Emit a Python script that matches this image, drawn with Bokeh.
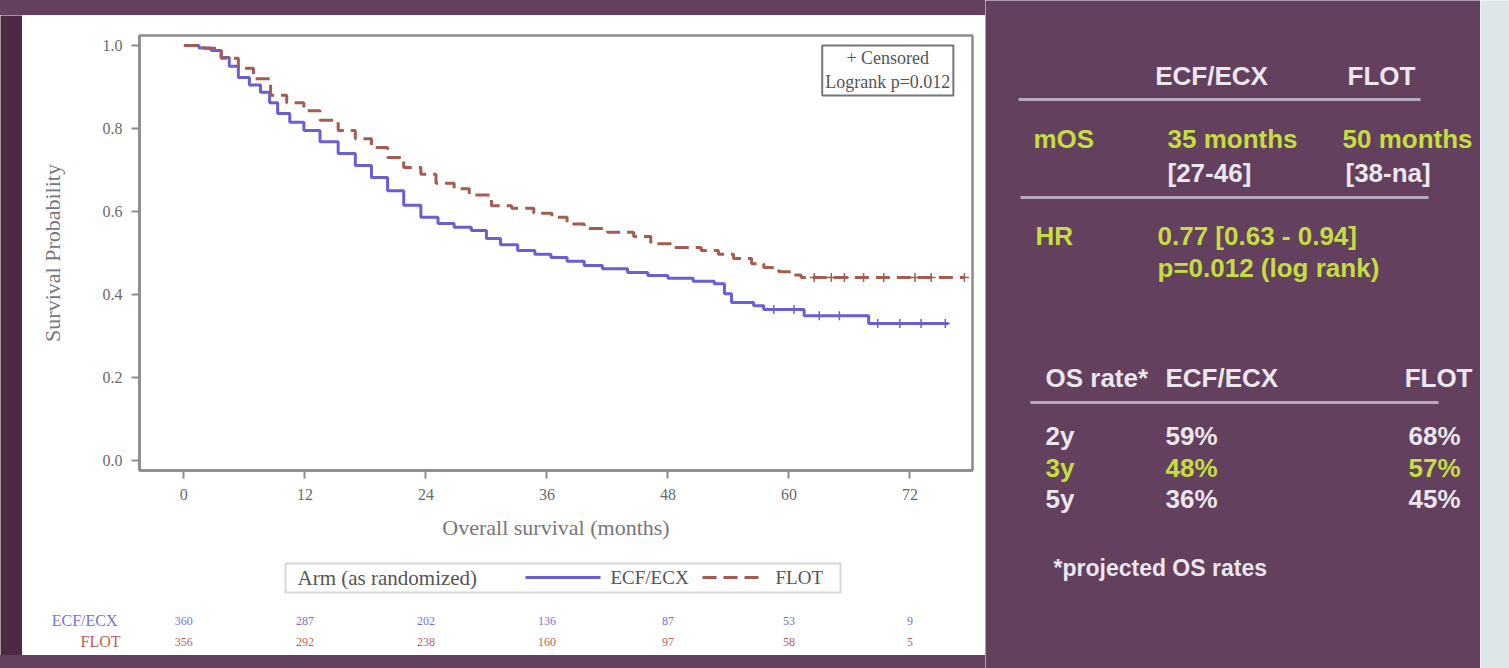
import bisect
from bokeh.plotting import figure
from bokeh.models import (Range1d, FixedTicker, Label, NumeralTickFormatter, BoxAnnotation, Div,
                          LinearAxis)
from bokeh.layouts import row, column
from bokeh.embed import file_html
from bokeh.resources import INLINE
from bokeh.core.properties import value

# ---------------- data ----------------
ecf_t = [0, 1.5, 2.7, 3.7, 4.5, 5.4, 6.5, 7.6, 8.5, 9.3, 10.5, 11.9, 13.5, 15.3, 17.0, 18.6,
         20.2, 21.8, 23.5, 25.2, 26.8, 28.5, 30.0, 31.4, 33.1, 34.8, 36.4, 38.0, 39.7, 41.5,
         44.0, 46.0, 48.0, 50.5, 52.6, 53.6, 54.3, 56.5, 57.5, 61.5, 67.9, 75.8]
ecf_s = [1.0, 0.994, 0.988, 0.971, 0.950, 0.923, 0.905, 0.887, 0.862, 0.836, 0.815, 0.795,
         0.768, 0.740, 0.711, 0.682, 0.650, 0.615, 0.586, 0.571, 0.562, 0.554, 0.535, 0.520,
         0.506, 0.497, 0.489, 0.480, 0.470, 0.462, 0.453, 0.446, 0.439, 0.432, 0.426, 0.402,
         0.381, 0.373, 0.364, 0.349, 0.330, 0.330]

flot_t = [0, 2.0, 3.7, 5.4, 6.9, 8.6, 10.2, 11.9, 13.5, 15.3, 17.0, 18.6, 20.2, 21.8, 23.5,
          25.0, 26.8, 28.3, 30.5, 32.5, 34.7, 36.5, 38.0, 39.7, 42.0, 44.6, 46.3, 48.5, 51.3,
          53.0, 54.5, 56.3, 57.5, 59.0, 60.5, 61.2, 77.4]
flot_s = [1.0, 0.993, 0.969, 0.945, 0.920, 0.880, 0.862, 0.843, 0.820, 0.795, 0.775, 0.754,
          0.730, 0.706, 0.690, 0.668, 0.655, 0.640, 0.614, 0.608, 0.596, 0.586, 0.570, 0.559,
          0.550, 0.540, 0.522, 0.513, 0.506, 0.497, 0.487, 0.474, 0.465, 0.455, 0.447, 0.441,
          0.441]

ecf_censor_t = [58.5, 60.5, 63.0, 65.0, 68.8, 71.0, 73.1, 75.5]
flot_censor_t = [62.5, 64.2, 65.5, 67.4, 69.4, 72.5, 74.1, 77.4]

x_ticks = [0, 12, 24, 36, 48, 60, 72]
y_ticks = [0.0, 0.2, 0.4, 0.6, 0.8, 1.0]

risk_times = [0, 12, 24, 36, 48, 60, 72]
ecf_risk = ["360", "287", "202", "136", "87", "53", "9"]
flot_risk = ["356", "292", "238", "160", "97", "58", "5"]

arm_names = ["ECF/ECX", "FLOT"]
legend_title = "Arm (as randomized)"

# right panel table
head_cols = ["ECF/ECX", "FLOT"]
mos_label = "mOS"
mos_vals = ["35 months", "50 months"]
mos_ci = ["[27-46]", "[38-na]"]
hr_label = "HR"
hr_lines = ["0.77 [0.63 - 0.94]", "p=0.012 (log rank)"]
os_head = ["OS rate*", "ECF/ECX", "FLOT"]
os_years = ["2y", "3y", "5y"]
os_ecf = ["59%", "48%", "36%"]
os_flot = ["68%", "57%", "45%"]
footnote = "*projected OS rates"

# ---------------- styles ----------------
PURPLE = "#62405e"
DARKP = "#4c2a42"
BLUE = "#6a5fd0"
BROWN = "#a35b52"
GRAY = "#8c8c8c"
TXT = "#6a6a6a"
WHITE_T = "#ece6ee"
YELLOW = "#c6dd3e"
RISK_B = "#7b6fd6"
RISK_R = "#c0605a"
SERIF = "Liberation Serif"
SANS = "Liberation Sans"


def step_value(ts, ss, t):
    i = bisect.bisect_right(ts, t) - 1
    return ss[max(i, 0)]


def blank(w, h, color):
    return figure(width=w, height=h, output_backend="svg", toolbar_location=None,
                  min_border_left=0, min_border_right=0, min_border_top=0, min_border_bottom=0,
                  x_axis_type=None, y_axis_type=None, background_fill_color=color,
                  border_fill_color=color, outline_line_color=None)


# ---------------- KM figure ----------------
PW, PH = 963, 540
PANEL_X = 22                      # left edge of the white panel on the page
BL, BR, BT, BB = 117, 13, 20, 85
X0, X1 = -4.4, 78.2
xr = Range1d(X0, X1)
p = figure(width=PW, height=PH, x_range=xr, y_range=Range1d(-0.024, 1.024),
           output_backend="svg", toolbar_location=None,
           min_border_left=BL, min_border_right=BR, min_border_top=BT, min_border_bottom=BB,
           background_fill_color="white", border_fill_color="white")
p.grid.visible = False
p.outline_line_color = GRAY
p.outline_line_width = 2.5

for ax in (p.xaxis[0], p.yaxis[0]):
    ax.axis_line_color = GRAY
    ax.axis_line_width = 2.5
    ax.major_tick_line_color = GRAY
    ax.major_tick_line_width = 2
    ax.major_tick_out = 8
    ax.major_tick_in = 0
    ax.minor_tick_line_color = None
    ax.major_label_text_font = SERIF
    ax.major_label_text_font_size = "16px"
    ax.major_label_text_color = TXT
    ax.axis_label_text_font = SERIF
    ax.axis_label_text_font_size = "22px"
    ax.axis_label_text_font_style = "normal"
    ax.axis_label_text_color = "#777777"

p.xaxis.ticker = FixedTicker(ticks=x_ticks)
p.yaxis.ticker = FixedTicker(ticks=y_ticks)
p.yaxis.formatter = NumeralTickFormatter(format="0.0")
p.xaxis.axis_label = "Overall survival (months)"
p.yaxis.axis_label = "Survival Probability"
p.xaxis.major_label_standoff = 10
p.xaxis.axis_label_standoff = 12
p.yaxis.major_label_standoff = 9
p.yaxis.axis_label_standoff = 35

p.step(ecf_t, ecf_s, mode="after", line_color=BLUE, line_width=3)
p.step(flot_t, flot_s, mode="after", line_color=BROWN, line_width=3, line_dash="14 7")

p.scatter(ecf_censor_t, [step_value(ecf_t, ecf_s, t) for t in ecf_censor_t], marker="cross",
          size=9, line_color=BLUE, line_width=1.5)
p.scatter(flot_censor_t, [step_value(flot_t, flot_s, t) for t in flot_censor_t], marker="cross",
          size=9, line_color=BROWN, line_width=1.5)

box = Label(x=69.8, y=1.0, text="+ Censored\nLogrank p=0.012", text_align="center",
            text_baseline="top", text_font=SERIF, text_font_size="18px", text_color="#555555",
            border_line_color="#777777", border_line_width=2, background_fill_color="white")
if "padding" in Label.properties():
    box.padding = 3
p.add_layout(box)

# ---------------- bottom strip: legend + numbers at risk (frame aligned with KM frame) ----
ppm = (PW - BL - BR) / (X1 - X0)          # pixels per month in the KM frame
BH = 100
b = figure(width=PW, height=BH, x_range=xr, y_range=Range1d(0, BH), output_backend="svg",
           toolbar_location=None, min_border_left=BL, min_border_right=BR, min_border_top=0,
           min_border_bottom=0, x_axis_type=None, y_axis_type=None,
           background_fill_color="white", border_fill_color="white", outline_line_color=None)


def mx(page_x):  # page pixel -> months on the shared x scale
    return X0 + (page_x - PANEL_X - BL) / ppm


LEG_Y = BH - 22
b.add_layout(BoxAnnotation(left=mx(285), right=mx(840), bottom=BH - 37, top=BH - 8,
                           fill_alpha=0, line_color="#777777", line_width=2))
b.text(x=[mx(297)], y=[LEG_Y], text=[legend_title], text_font=value(SERIF),
       text_font_size="21px", text_color="#555555", text_baseline="middle", text_align="left")
b.text(x=[mx(610), mx(775)], y=[LEG_Y] * 2, text=arm_names, text_font=value(SERIF),
       text_font_size="19px", text_color="#555555", text_baseline="middle", text_align="left")
b.segment(x0=[mx(525)], y0=[LEG_Y], x1=[mx(600)], y1=[LEG_Y], line_color=BLUE, line_width=3)
b.segment(x0=[mx(702)], y0=[LEG_Y], x1=[mx(763)], y1=[LEG_Y], line_color=BROWN, line_width=3,
          line_dash="14 7")

ROW1, ROW2 = BH - 65, BH - 86
b.text(x=risk_times, y=[ROW1] * len(risk_times), text=ecf_risk, text_align="center",
       text_baseline="middle", text_font=value(SERIF), text_font_size="12px", text_color=RISK_B)
b.text(x=risk_times, y=[ROW2] * len(risk_times), text=flot_risk, text_align="center",
       text_baseline="middle", text_font=value(SERIF), text_font_size="12px", text_color=RISK_R)

# row labels of the risk table as two left axes (FLOT nearest the frame, ECF/ECX outside it)
ax_f = LinearAxis(ticker=FixedTicker(ticks=[ROW2]), major_label_overrides={ROW2: arm_names[1]},
                  axis_line_color=None, major_tick_line_color=None, minor_tick_line_color=None,
                  major_tick_out=0, major_tick_in=0, major_label_text_color=RISK_R,
                  major_label_text_font=SERIF, major_label_text_font_size="16px",
                  major_label_standoff=19)
ax_e = LinearAxis(ticker=FixedTicker(ticks=[ROW1]), major_label_overrides={ROW1: arm_names[0]},
                  axis_line_color=None, major_tick_line_color=None, minor_tick_line_color=None,
                  major_tick_out=0, major_tick_in=0, major_label_text_color=RISK_B,
                  major_label_text_font=SERIF, major_label_text_font_size="16px",
                  major_label_standoff=-40)
b.add_layout(ax_f, "left")
b.add_layout(ax_e, "left")

# ---------------- right panel ----------------
W2, H2 = 495, 668
q = figure(width=W2, height=H2, x_range=Range1d(0, W2), y_range=Range1d(0, H2),
           output_backend="svg", toolbar_location=None,
           min_border_left=0, min_border_right=0, min_border_top=0, min_border_bottom=0,
           x_axis_type=None, y_axis_type=None, background_fill_color=PURPLE,
           border_fill_color=PURPLE, outline_line_color=None)


def X(px):
    return px - 985


def Y(py):
    return H2 - py


def txt(xs, ys, texts, color, align="left", size="26px"):
    q.text(x=[X(v) for v in xs], y=[Y(v) for v in ys], text=texts, text_color=color,
           text_font=value(SANS), text_font_size=size, text_font_style="bold",
           text_align=align, text_baseline="middle")


txt([1211, 1381], [75, 75], head_cols, WHITE_T, "center")
txt([1033, 1167, 1342], [138, 138, 138], [mos_label] + mos_vals, YELLOW)
txt([1167, 1345], [172, 172], mos_ci, WHITE_T)
txt([1035, 1157, 1157], [235, 235, 267], [hr_label] + hr_lines, YELLOW)
txt([1045, 1165], [377, 377], os_head[:2], WHITE_T)
txt([1472], [377], os_head[2:], WHITE_T, "right")
row_y = [435, 467, 498]
row_c = [WHITE_T, YELLOW, WHITE_T]
for yy, yr, e, f, c in zip(row_y, os_years, os_ecf, os_flot, row_c):
    txt([1045, 1165], [yy, yy], [yr, e], c)
    txt([1460], [yy], [f], c, "right")
txt([1053], [567], [footnote], WHITE_T, size="23px")
q.segment(x0=[X(1018), X(1020), X(1030)], y0=[Y(99), Y(197), Y(402)],
          x1=[X(1420), X(1428), X(1438)], y1=[Y(99), Y(197), Y(402)],
          line_color="#b9a9bd", line_width=3)

# ---------------- slide frame ----------------
top_strip = Div(text="", width=PW + PANEL_X, height=15, margin=0,
                styles={"background-color": PURPLE})
bottom_strip = Div(text="", width=PW + PANEL_X, height=13, margin=0,
                   styles={"background-color": PURPLE})
left_strip = blank(PANEL_X, PH + BH, DARKP)
wall = blank(29, H2, "#dfe6ea")

left_block = column(top_strip, row(left_strip, column(p, b)), bottom_strip)
layout = row(left_block, q, wall)

open("out.html", "w").write(file_html(layout, INLINE))
